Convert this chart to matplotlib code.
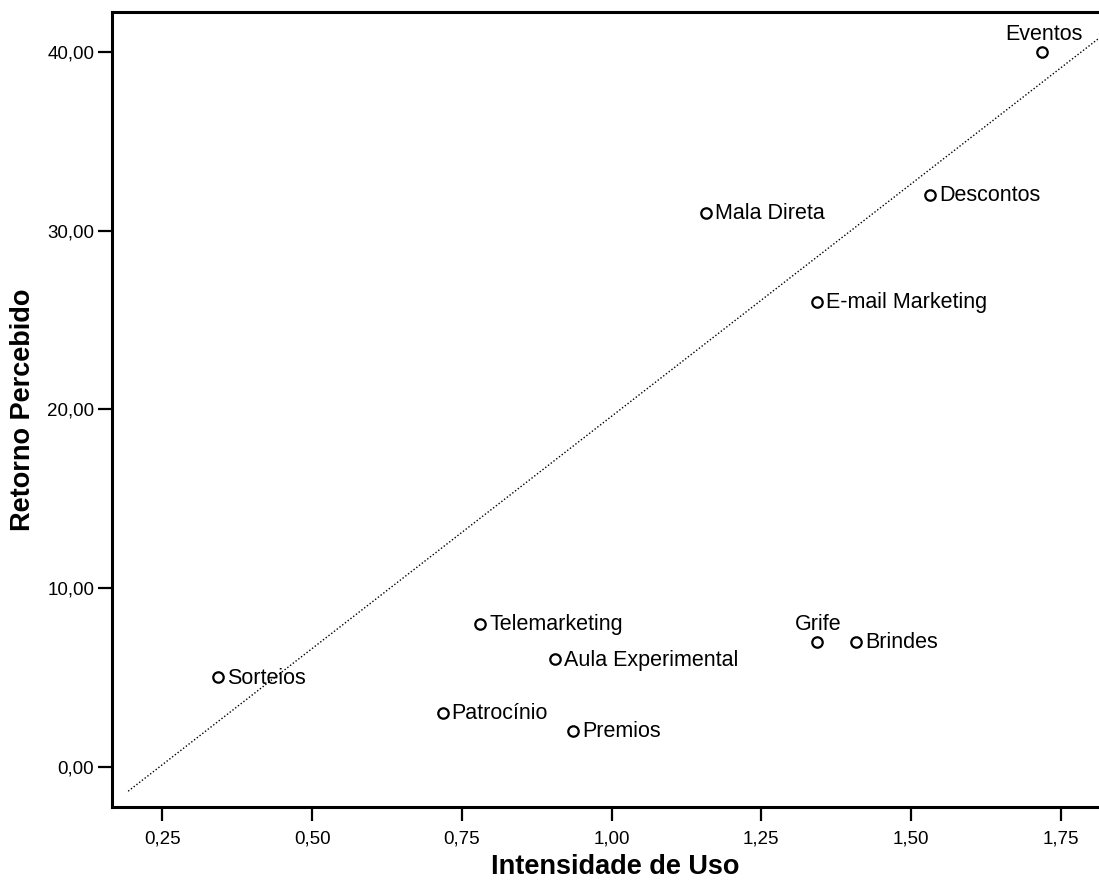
import matplotlib
matplotlib.use('Agg')
import matplotlib.pyplot as plt
import numpy as np

# values
labels = ['Eventos', 'Descontos', 'Mala Direta', 'E-mail Marketing',
          'Telemarketing', 'Aula Experimental', 'Patrocínio', 'Premios',
          'Grife', 'Brindes', 'Sorteios']
intensidade = [1.719, 1.532, 1.158, 1.343, 0.781, 0.906, 0.718, 0.936,
               1.343, 1.409, 0.343]
retorno = [40, 32, 31, 26, 8, 6, 3, 2, 7, 7, 5]
above = ['Eventos', 'Grife']

# fit line as drawn in the picture
fit_slope = 26.0
fit_intercept = -6.39
fit_x_start = 0.193

xticks = [0.25, 0.50, 0.75, 1.00, 1.25, 1.50, 1.75]
yticks = [0, 10, 20, 30, 40]

plt.rcParams['font.family'] = ['Liberation Sans', 'DejaVu Sans']

fig = plt.figure(figsize=(10.99, 8.8), dpi=100)
ax = fig.add_axes([0.1022, 0.0835, 0.9153, 0.9025])

xl = (0.1665, 1.846)
ax.set_xlim(xl)
ax.set_ylim(-2.23, 42.22)

lx = np.array([fit_x_start, xl[1]])
ax.plot(lx, fit_intercept + fit_slope * lx, color='black', lw=1.0,
        linestyle=(0, (1, 1.5)))

ax.plot(intensidade, retorno, 'o', mfc='white', mec='black', mew=1.6,
        ms=7.5, ls='none', zorder=3)

for name, x, y in zip(labels, intensidade, retorno):
    if name in above:
        ax.annotate(name, (x, y), xytext=(1, 8.5), textcoords='offset points',
                    ha='center', va='baseline', fontsize=15.5)
    else:
        ax.annotate(name, (x, y), xytext=(6.5, -0.5), textcoords='offset points',
                    ha='left', va='center', fontsize=15.5)

ax.set_xticks(xticks)
ax.set_xticklabels([f'{t:.2f}'.replace('.', ',') for t in xticks])
ax.set_yticks(yticks)
ax.set_yticklabels([f'{t:.2f}'.replace('.', ',') for t in yticks])

ax.tick_params(axis='x', length=10, width=1.6, pad=7, labelsize=13.5)
ax.tick_params(axis='y', length=10, width=1.6, pad=3, labelsize=13.5)
for s in ax.spines.values():
    s.set_linewidth(2.2)

ax.set_xlabel('Intensidade de Uso', fontsize=19.5, fontweight='bold',
              labelpad=5)
ax.set_ylabel('Retorno Percebido', fontsize=19.5, fontweight='bold',
              labelpad=8)

fig.savefig('out.png', dpi=100)
